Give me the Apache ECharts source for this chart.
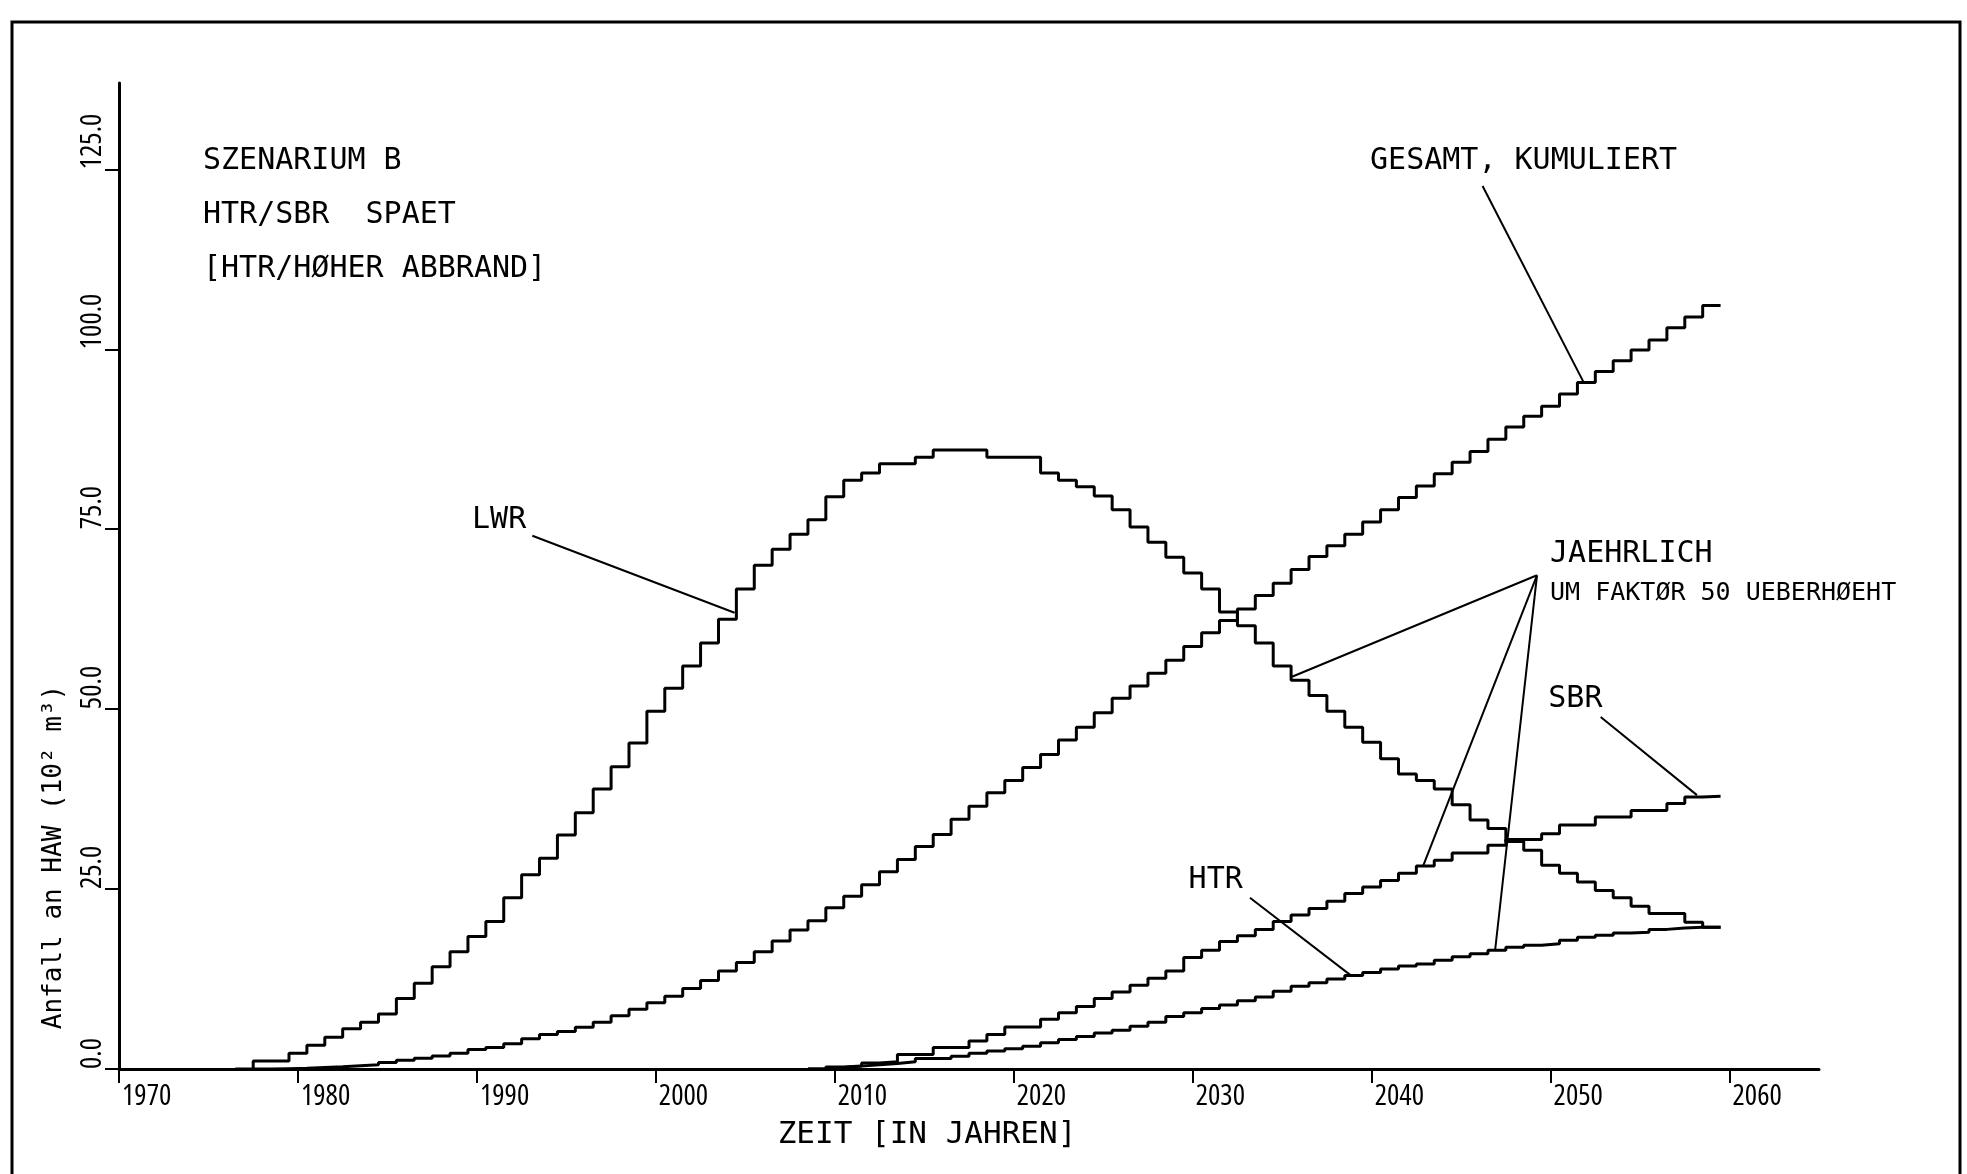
<!DOCTYPE html>
<html>
<head>
<meta charset="utf-8">
<script src="https://cdn.jsdelivr.net/npm/echarts@6/dist/echarts.min.js"></script>
<style>
html,body{margin:0;padding:0;background:#fff;}
#c{width:1967px;height:1174px;}
</style>
</head>
<body>
<div id="c"></div>
<script>
// ---------- tick labels ----------
const xTicks = [1970, 1980, 1990, 2000, 2010, 2020, 2030, 2040, 2050, 2060];
const yTicks = [0, 25, 50, 75, 100, 125];

// ---------- series values (one value per year, starting at the start year) ----------
const lwrStartYear = 1977;
const lwrValues = [
  0, 1.1, 1.1, 2.2, 3.3, 4.4, 5.6, 6.5, 7.65, 9.8,
  11.9, 14.2, 16.3, 18.4, 20.5, 23.8, 27.0, 29.3, 32.5, 35.6,
  38.9, 42.0, 45.3, 49.7, 52.9, 56.0, 59.2, 62.5, 66.7, 70.0,
  72.2, 74.3, 76.3, 79.5, 81.8, 82.8, 84.1, 84.1, 85.0, 86.0,
  86.0, 86.0, 85.0, 85.0, 85.0, 82.8, 81.8, 80.9, 79.6, 77.7,
  75.3, 73.2, 71.1, 68.9, 66.7, 63.5, 61.6, 59.2, 56.0, 54.0,
  51.9, 49.7, 47.5, 45.4, 43.1, 41.0, 40.1, 38.9, 36.7, 34.6,
  33.4, 31.6, 30.4, 28.3, 27.2, 26.0, 24.8, 23.8, 22.6, 21.6,
  21.6, 20.4, 19.7
];

const gesamtStartYear = 1978;
const gesamtValues = [
  0, 0.05, 0.1, 0.2, 0.3, 0.45, 0.6, 0.9, 1.2, 1.5,
  1.8, 2.2, 2.7, 3.0, 3.5, 4.2, 4.8, 5.2, 5.8, 6.5,
  7.4, 8.3, 9.2, 10.1, 11.2, 12.3, 13.6, 14.8, 16.3, 17.8,
  19.3, 20.6, 22.4, 24.0, 25.6, 27.4, 29.1, 30.9, 32.6, 34.7,
  36.5, 38.4, 40.1, 41.9, 43.7, 45.7, 47.5, 49.5, 51.5, 53.2,
  55.0, 56.8, 58.7, 60.6, 62.3, 63.9, 65.8, 67.5, 69.4, 71.2,
  72.7, 74.3, 76.0, 77.7, 79.4, 81.0, 82.7, 84.3, 85.8, 87.5,
  89.2, 90.7, 92.1, 93.8, 95.4, 96.9, 98.4, 99.9, 101.3, 103.0,
  104.5, 106.1
];

const sbrStartYear = 2009;
const sbrValues = [
  0, 0.2, 0.4, 0.85, 1.0, 2.0, 2.0, 3.0, 3.0, 3.9,
  4.8, 5.85, 5.85, 6.9, 7.8, 8.7, 9.8, 10.7, 11.65, 12.6,
  13.6, 15.5, 16.5, 17.7, 18.5, 19.4, 20.5, 21.4, 22.3, 23.3,
  24.4, 25.3, 26.2, 27.2, 28.2, 29.0, 30.0, 30.0, 31.1, 31.9,
  31.9, 32.7, 33.9, 33.9, 35.0, 35.0, 35.9, 35.9, 36.9, 37.8,
  37.9
];

const htrStartYear = 2009;
const htrValues = [
  0, 0.28, 0.4, 0.6, 0.76, 1.0, 1.46, 1.46, 1.78, 2.2,
  2.5, 2.83, 3.17, 3.63, 4.1, 4.5, 5.0, 5.4, 5.95, 6.5,
  7.3, 7.8, 8.4, 8.9, 9.47, 10.0, 10.8, 11.5, 12.0, 12.5,
  13.0, 13.4, 13.9, 14.3, 14.6, 15.1, 15.6, 16.0, 16.5, 16.9,
  17.2, 17.4, 17.9, 18.3, 18.6, 18.9, 19.0, 19.4, 19.6, 19.7,
  19.7
];

// ---------- annotation leader lines (data coordinates: [year, value]) ----------
const leaders = [
  [[1993.1, 74.1], [2004.4, 63.4]],      // LWR
  [[2046.2, 122.7], [2051.85, 95.4]],    // GESAMT
  [[2049.24, 68.6], [2035.55, 54.5]],    // JAEHRLICH -> LWR
  [[2049.24, 68.6], [2042.89, 28.3]],    // JAEHRLICH -> SBR
  [[2049.24, 68.6], [2046.9, 16.5]],     // JAEHRLICH -> HTR
  [[2052.8, 48.9], [2058.18, 38.05]],    // SBR
  [[2033.2, 23.8], [2038.89, 12.9]]      // HTR
];
// annotation texts, anchored at their left-middle point in data coordinates
const notes = [
  {text: 'LWR', at: [1989.73, 76.2], size: 30},
  {text: 'GESAMT, KUMULIERT', at: [2039.91, 126.2], size: 30},
  {text: 'JAEHRLICH', at: [2049.97, 71.5], size: 30},
  {text: 'UM FAKTØR 50 UEBERHØEHT', at: [2049.97, 66.0], size: 25},
  {text: 'SBR', at: [2049.87, 51.4], size: 30},
  {text: 'HTR', at: [2029.77, 26.3], size: 30}
];
const titleLines = ['SZENARIUM B', 'HTR/SBR  SPAET', '[HTR/HØHER ABBRAND]'];

const PLOT_FONT = '"DejaVu Sans Mono", monospace';

// ---------- pick a narrow font for the tick labels (tall, condensed plotter digits) ----------
const mctx = document.createElement('canvas').getContext('2d');
function measure(font, s) { mctx.font = font; return mctx.measureText(s).width; }
const SAMPLE = '1970 125.0 abcdefgWMN';
function hasFamily(name) {
  return measure('40px "' + name + '", monospace', SAMPLE) !== measure('40px monospace', SAMPLE) ||
         measure('40px "' + name + '", serif', SAMPLE) !== measure('40px serif', SAMPLE);
}
const candidates = [];
['Liberation Sans Narrow', 'Arial Narrow', 'Roboto Condensed', 'Open Sans Condensed',
 'Noto Sans Condensed', 'DejaVu Sans Condensed', 'Liberation Sans'].forEach(f => {
  if (hasFamily(f)) candidates.push({family: '"' + f + '"', style: 'normal'});
});
['Noto Sans', 'Open Sans', 'Roboto', 'Inter', 'DejaVu Sans'].forEach(f => {
  if (!hasFamily(f)) return;
  ['extra-condensed', 'condensed', 'semi-condensed'].forEach(st => {
    candidates.push({family: '"' + f + '"', style: st});
  });
});
const IDEAL_UNIT = 1.6;   // width of "1970" in em for a tall narrow face
let best = {family: '"DejaVu Sans"', style: 'normal', unit: 2.54}, bestScore = 1e9;
candidates.forEach(c => {
  const pre = c.style === 'normal' ? '' : c.style + ' ';
  const unit = measure(pre + '100px ' + c.family, '1970') / 100;
  const score = Math.abs(Math.log(unit / IDEAL_UNIT));
  if (score < bestScore) { bestScore = score; best = {family: c.family, style: c.style, unit: unit}; }
});
const tickSize = Math.max(18, Math.min(31, Math.round(49 / best.unit)));

function stepData(startYear, values) {
  const pts = values.map((v, i) => [startYear + i - 0.5, v]);
  pts.push([startYear + values.length - 0.5, values[values.length - 1]]);
  return pts;
}

const curveStyle = {color: '#000', width: 3};
function curve(name, startYear, values) {
  return {
    name: name, type: 'line', step: 'end', showSymbol: false, symbol: 'none',
    silent: true, lineStyle: curveStyle, data: stepData(startYear, values), z: 3
  };
}

const series = [
  curve('LWR', lwrStartYear, lwrValues),
  curve('GESAMT', gesamtStartYear, gesamtValues),
  curve('SBR', sbrStartYear, sbrValues),
  curve('HTR', htrStartYear, htrValues)
];
leaders.forEach((seg, i) => {
  series.push({
    name: 'leader' + i, type: 'line', showSymbol: false, symbol: 'none', silent: true,
    lineStyle: {color: '#000', width: 2}, data: seg, z: 2
  });
});

const tickLabelBase = {
  color: '#000', fontFamily: best.family, fontStyle: best.style, fontSize: tickSize
};

const chart = echarts.init(document.getElementById('c'), null, {renderer: 'canvas'});
const option = {
  animation: false,
  backgroundColor: '#fff',
  grid: {left: 119, right: 148, top: 83, bottom: 105, containLabel: false, outerBoundsMode: 'none'},
  xAxis: {
    type: 'value', min: 1970, max: 2065, interval: 10,
    splitLine: {show: false},
    axisLine: {show: true, onZero: false, lineStyle: {color: '#000', width: 3}},
    axisTick: {show: true, length: 14, lineStyle: {color: '#000', width: 2}, customValues: xTicks},
    axisLabel: Object.assign({
      show: true, customValues: xTicks, margin: 13, align: 'left', padding: [0, 0, 0, 3],
      formatter: v => String(v)
    }, tickLabelBase)
  },
  yAxis: {
    type: 'value', min: 0, max: 137, interval: 25,
    splitLine: {show: false},
    axisLine: {show: true, onZero: false, lineStyle: {color: '#000', width: 3}},
    axisTick: {show: true, length: 14, lineStyle: {color: '#000', width: 2}, customValues: yTicks},
    axisLabel: Object.assign({
      show: true, customValues: yTicks, rotate: 90, align: 'left', verticalAlign: 'bottom',
      margin: 12, formatter: v => Number(v).toFixed(1)
    }, tickLabelBase)
  },
  series: series
};
chart.setOption(option);

const toPx = p => chart.convertToPixel({gridIndex: 0}, p);
const graphics = [
  {type: 'rect', shape: {x: 12, y: 22, width: 1948, height: 1200},
   style: {fill: 'none', stroke: '#000', lineWidth: 3}, silent: true}
];
titleLines.forEach((t, i) => {
  graphics.push({type: 'text', x: 203, y: 161 + i * 54, silent: true,
    style: {text: t, fill: '#000', fontFamily: PLOT_FONT, fontSize: 30, align: 'left', verticalAlign: 'middle'}});
});
notes.forEach(n => {
  const p = toPx(n.at);
  graphics.push({type: 'text', x: p[0], y: p[1], silent: true,
    style: {text: n.text, fill: '#000', fontFamily: PLOT_FONT, fontSize: n.size, align: 'left', verticalAlign: 'middle'}});
});
// axis titles
graphics.push({type: 'text', x: 927, y: 1135, silent: true,
  style: {text: 'ZEIT [IN JAHREN]', fill: '#000', fontFamily: PLOT_FONT, fontSize: 31, align: 'center', verticalAlign: 'middle'}});
graphics.push({type: 'text', x: 54, y: 857, rotation: Math.PI / 2, silent: true,
  style: {text: 'Anfall an HAW (10² m³)', fill: '#000', fontFamily: PLOT_FONT, fontSize: 26, align: 'center', verticalAlign: 'middle'}});
chart.setOption({graphic: graphics});
</script>
</body>
</html>
